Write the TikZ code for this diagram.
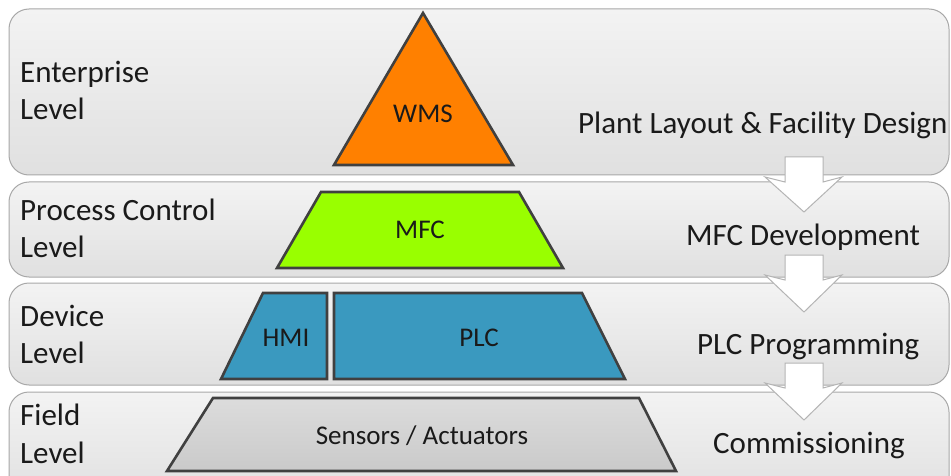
\documentclass[tikz,border=0pt]{standalone}
\usepackage{fontspec}
\setmainfont{Carlito}
\begin{document}
\begin{tikzpicture}[x=1pt,y=-1pt,
  band/.style={draw=bandline, line width=1pt, rounded corners=20pt, top color=bandtop, bottom color=bandbot},
  shapeedge/.style={draw=edgegrey, line width=2.6pt, line join=miter},
  blockarrow/.style={draw=arrowline, fill=white, line width=1pt, line join=miter},
  biglab/.style={font=\fontsize{31}{36}\selectfont, text=labtext, inner sep=0pt},
  smalllab/.style={font=\fontsize{27}{30}\selectfont, text=labtext, inner sep=0pt}]
\definecolor{bandtop}{HTML}{F3F3F3}
\definecolor{bandbot}{HTML}{E0E0E0}
\definecolor{bandline}{HTML}{A8A8A8}
\definecolor{edgegrey}{HTML}{404040}
\definecolor{arrowline}{HTML}{B4B4B4}
\definecolor{labtext}{HTML}{1A1A1A}
\definecolor{wmsfill}{HTML}{FF8000}
\definecolor{mfcfill}{HTML}{99FF00}
\definecolor{plcfill}{HTML}{3A99BF}
\definecolor{senstop}{HTML}{DCDCDC}
\definecolor{sensbot}{HTML}{CACACA}
\useasboundingbox (0,0) rectangle (951,476);
\begin{scope}
\clip (0,0) rectangle (951,476);
% bands
\path[band] (9,9) rectangle (949,175);
\path[band] (9,182) rectangle (949,277);
\path[band] (9,283) rectangle (949,385);
\path[band] (9,392) rectangle (949,500);
% pyramid
\path[shapeedge, fill=wmsfill] (423,13) -- (513,165) -- (334,165) -- cycle;
\path[shapeedge, fill=mfcfill] (321,192) -- (519,192) -- (563,268) -- (277,268) -- cycle;
\path[shapeedge, fill=plcfill] (263,293) -- (327,293) -- (327,379) -- (221,379) -- cycle;
\path[shapeedge, fill=plcfill] (334,293) -- (582,293) -- (625,379) -- (334,379) -- cycle;
\path[shapeedge, top color=senstop, bottom color=sensbot] (213,398) -- (639,398) -- (676,471) -- (167,471) -- cycle;
% block arrows
\path[blockarrow] (785,157) -- (823,157) -- (823,182) -- (842,177) -- (804,212) -- (765,177) -- (785,182) -- cycle;
\path[blockarrow] (785,255) -- (823,255) -- (823,280) -- (842,275) -- (804,312) -- (765,275) -- (785,280) -- cycle;
\path[blockarrow] (785,363) -- (823,363) -- (823,388) -- (842,383) -- (804,420) -- (765,383) -- (785,388) -- cycle;
\end{scope}
% left labels
\node[biglab, anchor=base west] (ent1) at (20,83) {Enterprise};
\node[biglab, anchor=base west] (ent2) at (20,120) {Level};
\node[biglab, anchor=base west] (pc1) at (20,220) {Process Control};
\node[biglab, anchor=base west] (pc2) at (20,257) {Level};
\node[biglab, anchor=base west] (dev1) at (20,326) {Device};
\node[biglab, anchor=base west] (dev2) at (20,363) {Level};
\node[biglab, anchor=base west] (fld1) at (20,425) {Field};
\node[biglab, anchor=base west] (fld2) at (20,463) {Level};
% right labels
\node[biglab, anchor=base west] (plant) at (578,134) {Plant Layout \& Facility Design};
\node[biglab, anchor=base west] (mfcdev) at (686,245) {MFC Development};
\node[biglab, anchor=base west] (plcprog) at (697,354) {PLC Programming};
\node[biglab, anchor=base west] (comm) at (713,453) {Commissioning};
% shape labels
\node[smalllab, anchor=base] (wms) at (423,123) {WMS};
\node[smalllab, anchor=base] (mfc) at (420,238) {MFC};
\node[smalllab, anchor=base] (hmi) at (286,346) {HMI};
\node[smalllab, anchor=base] (plc) at (479,346) {PLC};
\node[smalllab, anchor=base] (sens) at (422,444) {Sensors / Actuators};
\end{tikzpicture}
\end{document}
